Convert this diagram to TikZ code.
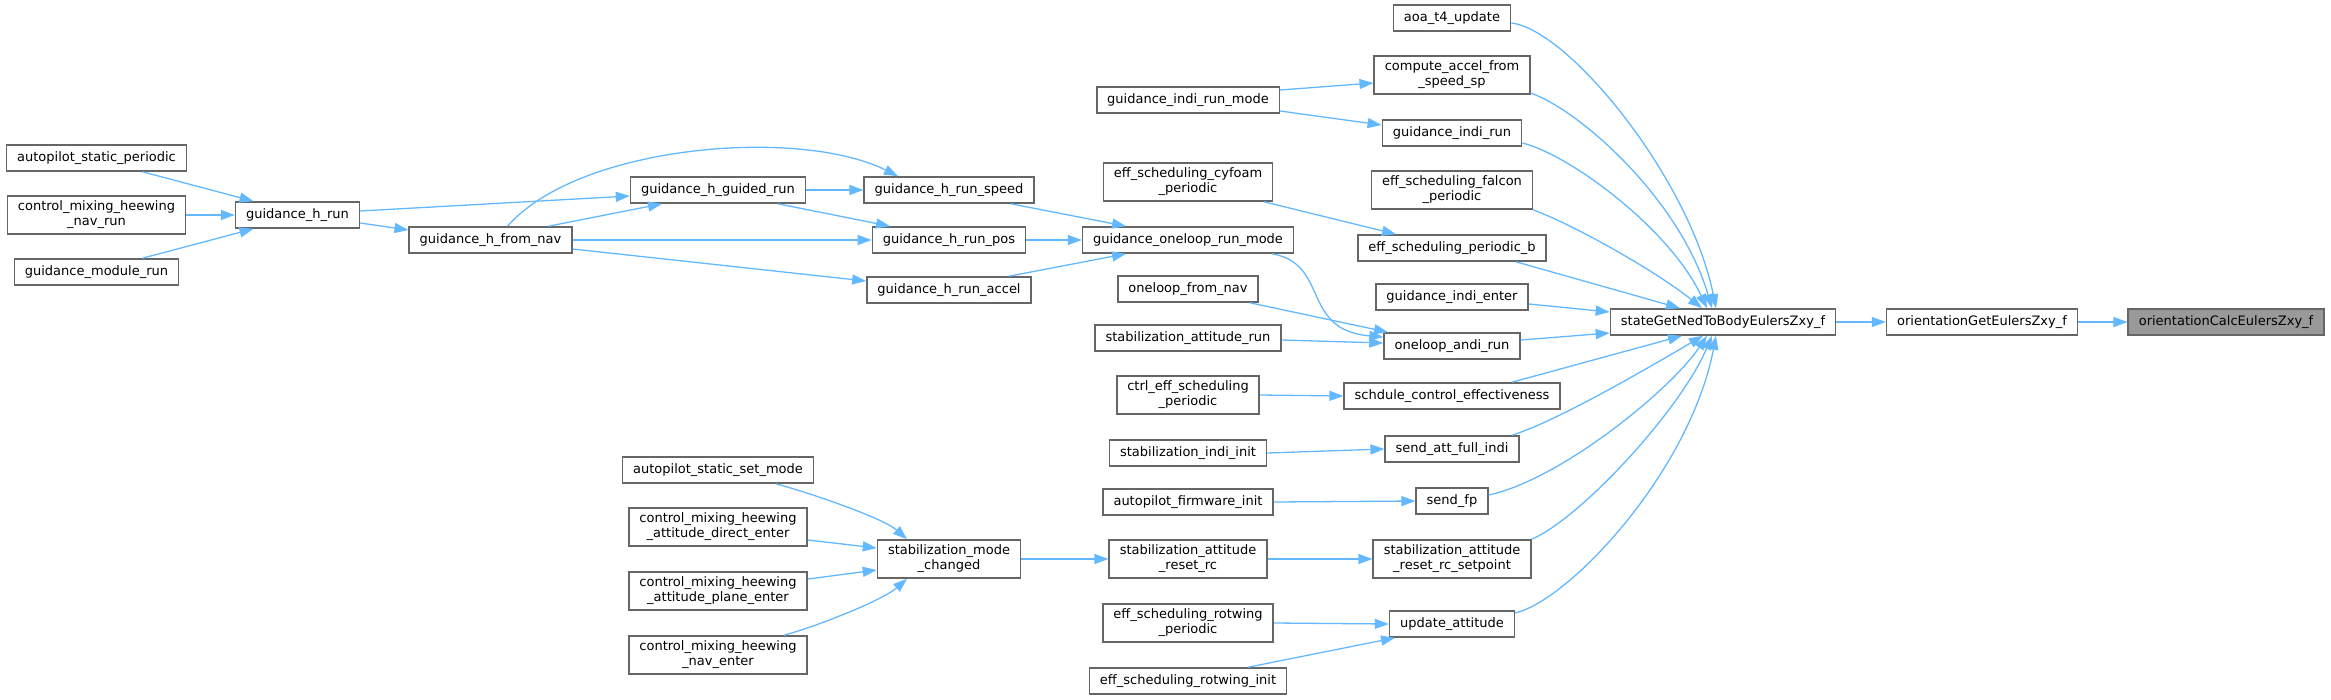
\documentclass[tikz,border=0pt]{standalone}
\usepackage{fontspec}
\setmainfont{DejaVu Sans}
\usetikzlibrary{arrows.meta}

\definecolor{edgeblue}{HTML}{63B8FF}
\definecolor{boxgray}{HTML}{666666}
\definecolor{hlgray}{HTML}{999999}

\tikzset{
  fnode/.style={draw=boxgray, fill=white, line width=1.6pt,
    inner xsep=10.5pt, inner ysep=5pt, minimum height=26pt,
    align=center, font=\fontsize{13}{15}\selectfont},
  hlnode/.style={fnode, fill=hlgray},
  call/.style={draw=edgeblue, line width=1.3pt, ->}
}

\begin{document}
\begin{tikzpicture}[
        x=1pt, y=-1pt,
        >={Stealth[length=14pt,width=10pt,inset=0pt]}
    ]
    \useasboundingbox (0,0) rectangle (2331,699);

    % Column 0
    \node[fnode] (asp) at (96.5,158) {autopilot\_static\_periodic};
    \node[fnode] (cmhnr) at (96.5,215) {control\_mixing\_heewing\\\_nav\_run};
    \node[fnode] (gmr) at (96.5,272) {guidance\_module\_run};

    % Columns 1 and 2
    \node[fnode] (ghr) at (297.5,215) {guidance\_h\_run};
    \node[fnode] (ghfn) at (490.5,240) {guidance\_h\_from\_nav};

    % Column 3
    \node[fnode] (ghgr) at (718,190) {guidance\_h\_guided\_run};
    \node[fnode] (assm) at (718,470) {autopilot\_static\_set\_mode};
    \node[fnode] (cmhade) at (718,527) {control\_mixing\_heewing\\\_attitude\_direct\_enter};
    \node[fnode] (cmhape) at (718,591) {control\_mixing\_heewing\\\_attitude\_plane\_enter};
    \node[fnode] (cmhne) at (718,655) {control\_mixing\_heewing\\\_nav\_enter};

    % Column 4
    \node[fnode] (ghrs) at (949,190) {guidance\_h\_run\_speed};
    \node[fnode] (ghrp) at (949,240) {guidance\_h\_run\_pos};
    \node[fnode] (ghra) at (949,290) {guidance\_h\_run\_accel};
    \node[fnode] (smc) at (949,559) {stabilization\_mode\\\_changed};

    % Column 5
    \node[fnode] (girm) at (1188,100) {guidance\_indi\_run\_mode};
    \node[fnode] (ecp) at (1188,182) {eff\_scheduling\_cyfoam\\\_periodic};
    \node[fnode] (gorm) at (1188,240) {guidance\_oneloop\_run\_mode};
    \node[fnode] (ofn) at (1188,289) {oneloop\_from\_nav};
    \node[fnode] (sar) at (1188,338) {stabilization\_attitude\_run};
    \node[fnode] (cesp) at (1188,395) {ctrl\_eff\_scheduling\\\_periodic};
    \node[fnode] (sii) at (1188,453) {stabilization\_indi\_init};
    \node[fnode] (afi) at (1188,502) {autopilot\_firmware\_init};
    \node[fnode] (sarr) at (1188,559) {stabilization\_attitude\\\_reset\_rc};
    \node[fnode] (esrp) at (1188,623) {eff\_scheduling\_rotwing\\\_periodic};
    \node[fnode] (esri) at (1188,681) {eff\_scheduling\_rotwing\_init};

    % Column 6
    \node[fnode] (ata) at (1452,18) {aoa\_t4\_update};
    \node[fnode] (cafs) at (1452,75) {compute\_accel\_from\\\_speed\_sp};
    \node[fnode] (gir) at (1452,133) {guidance\_indi\_run};
    \node[fnode] (efp) at (1452,190) {eff\_scheduling\_falcon\\\_periodic};
    \node[fnode] (espb) at (1452,248) {eff\_scheduling\_periodic\_b};
    \node[fnode] (gie) at (1452,297) {guidance\_indi\_enter};
    \node[fnode] (oar) at (1452,346) {oneloop\_andi\_run};
    \node[fnode] (sce) at (1452,396) {schdule\_control\_effectiveness};
    \node[fnode] (safi) at (1452,449) {send\_att\_full\_indi};
    \node[fnode] (sfp) at (1452,501) {send\_fp};
    \node[fnode] (sarrs) at (1452,559) {stabilization\_attitude\\\_reset\_rc\_setpoint};
    \node[fnode] (ua) at (1452,624) {update\_attitude};

    % Columns 7 to 9
    \node[fnode] (sgn) at (1723,322) {stateGetNedToBodyEulersZxy\_f};
    \node[fnode] (oge) at (1982,322) {orientationGetEulersZxy\_f};
    \node[hlnode] (oce) at (2226,322) {orientationCalcEulersZxy\_f};

    % Guidance h calls
    \draw[call] ([xshift=46pt]asp.south) -- ([xshift=-44pt]ghr.north);
    \draw[call] (cmhnr.east) -- (ghr.west);
    \draw[call] ([xshift=46pt]gmr.north) -- ([xshift=-44pt]ghr.south);
    \draw[call] ([yshift=-8pt]ghr.east) -- ([yshift=10pt]ghfn.west);
    \draw[call] ([yshift=4pt]ghr.east) -- ([yshift=-6pt]ghgr.west);
    \draw[call] ([xshift=58pt]ghfn.north) -- ([xshift=-56pt]ghgr.south);
    \draw[call] ([xshift=17pt]ghfn.north)
      .. controls +(72,-82) and +(-98,-49) .. ([xshift=-51pt]ghrs.north);
    \draw[call] (ghfn.east) -- (ghrp.west);
    \draw[call] ([yshift=-9pt]ghfn.east) -- ([yshift=9pt]ghra.west);
    \draw[call] (ghgr.east) -- (ghrs.west);
    \draw[call] ([xshift=60pt]ghgr.south) -- ([xshift=-59pt]ghrp.north);
    \draw[call] ([xshift=62pt]ghrs.south) -- ([xshift=-62pt]gorm.north);
    \draw[call] (ghrp.east) -- (gorm.west);
    \draw[call] ([xshift=60pt]ghra.north) -- ([xshift=-62pt]gorm.south);

    % Oneloop calls
    \draw[call] ([xshift=84pt]gorm.south)
      .. controls +(58,10) and +(-83,-7) .. ([yshift=9pt]oar.west);
    \draw[call] ([xshift=62pt]ofn.south) -- ([xshift=-64pt]oar.north);
    \draw[call] ([yshift=-2pt]sar.east) -- ([yshift=3pt]oar.west);

    % Column 5 to column 6
    \draw[call] ([xshift=76pt]ecp.south) -- ([xshift=-56pt]espb.north);
    \draw[call] ([yshift=10pt]girm.east) -- ([yshift=-8pt]cafs.west);
    \draw[call] ([yshift=-11pt]girm.east) -- ([yshift=8pt]gir.west);
    \draw[call] (cesp.east) -- (sce.west);
    \draw[call] (sii.east) -- (safi.west);
    \draw[call] (afi.east) -- (sfp.west);
    \draw[call] (sarr.east) -- (sarrs.west);
    \draw[call] (esrp.east) -- (ua.west);
    \draw[call] ([xshift=60pt]esri.north) -- ([xshift=-57pt]ua.south);

    % Stabilization mode
    \draw[call] ([xshift=58pt]assm.south)
      .. controls +(30,8) and +(-25,-22) .. ([xshift=-42pt]smc.north);
    \draw[call] ([yshift=-13pt]cmhade.east) -- ([yshift=11pt]smc.west);
    \draw[call] ([yshift=12pt]cmhape.east) -- ([yshift=-11pt]smc.west);
    \draw[call] ([xshift=66pt]cmhne.north)
      .. controls +(30,-8) and +(-25,22) .. ([xshift=-42pt]smc.south);
    \draw[call] (smc.east) -- (sarr.west);

    % Into stateGetNedToBodyEulersZxy_f
    \draw[call] ([yshift=-5pt]ata.east)
      .. controls +(58,7) and +(-26,-129) .. ([xshift=-7pt]sgn.north);
    \draw[call] ([yshift=-18pt]cafs.east)
      .. controls +(49,17) and +(-32,-109) .. ([xshift=-11pt]sgn.north);
    \draw[call] ([yshift=-10pt]gir.east)
      .. controls +(48,12) and +(-37,-79) .. ([xshift=-16pt]sgn.north);
    \draw[call] (efp.south east)
      .. controls +(47,18) and +(-42,-34) .. ([xshift=-21pt]sgn.north);
    \draw[call] ([xshift=64pt]espb.south) -- ([xshift=-43pt]sgn.north);
    \draw[call] ([yshift=-7pt]gie.east) -- ([yshift=10pt]sgn.west);
    \draw[call] ([yshift=6pt]oar.east) -- ([yshift=-11pt]sgn.west);
    \draw[call] ([xshift=60pt]sce.north) -- ([xshift=-41pt]sgn.south);
    \draw[call] ([xshift=60pt]safi.north)
      .. controls +(48,-15) and +(-43,25) .. ([xshift=-20pt]sgn.south);
    \draw[call] ([yshift=6pt]sfp.east)
      .. controls +(71,-15) and +(-37,55) .. ([xshift=-16pt]sgn.south);
    \draw[call] (sarrs.north east)
      .. controls +(48,-20) and +(-32,75) .. ([xshift=-11pt]sgn.south);
    \draw[call] ([yshift=11pt]ua.east)
      .. controls +(55,-13) and +(-26,135) .. ([xshift=-7pt]sgn.south);

    % Orientation chain
    \draw[call] (sgn.east) -- (oge.west);
    \draw[call] (oge.east) -- (oce.west);
\end{tikzpicture}
\end{document}
